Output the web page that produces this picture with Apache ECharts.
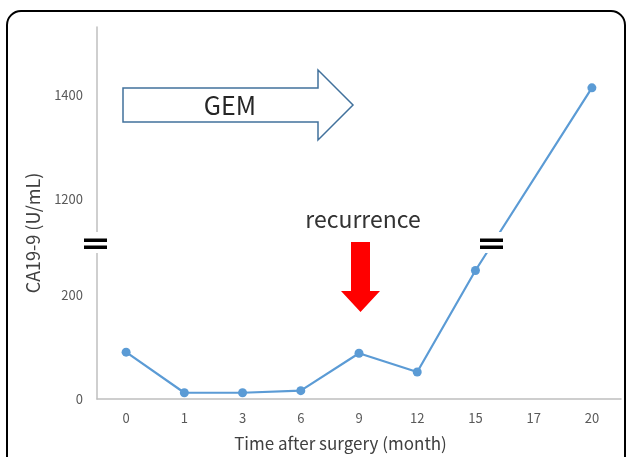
<!DOCTYPE html>
<html lang="ja">
<head>
    <meta charset="utf-8">
    <title>CA19-9</title>
    <script src="https://cdn.jsdelivr.net/npm/echarts@6/dist/echarts.min.js"></script>
    <style>
        html, body { margin: 0; padding: 0; background: #fff; }
        #main { width: 627px; height: 457px; }
    </style>
</head>
<body>
<div id="main"></div>
<script>
    // data
    var months = ['0', '1', '3', '6', '9', '12', '15', '17', '20'];
    var ca199 = [90, 12, 12, 16, 88, 52, 247, '-', 1413];
    var yTicks = [0, 200, 1200, 1400];

    // broken y axis: values above the break are shifted down
    var BREAK_AT = 600, SHIFT = 815;
    function toAxis(v) {
        if (v === '-') return '-';
        return v > BREAK_AT ? v - SHIFT : v;
    }
    function fromAxis(d) {
        return d > 300 ? d + SHIFT : d;
    }

    var font = '"Noto Sans CJK JP", "Noto Sans", sans-serif';
    var blue = '#5b9bd5';

    var myChart = echarts.init(document.getElementById('main'));
    myChart.setOption({
        animation: false,
        textStyle: { fontFamily: font },
        grid: { left: 97, right: 6, top: 27, bottom: 58 },
        xAxis: {
            type: 'category',
            data: months,
            boundaryGap: true,
            axisLine: { lineStyle: { color: '#bfbfbf', width: 1.5 } },
            axisTick: { show: false },
            axisLabel: { color: '#595959', fontSize: 13, margin: 13, fontFamily: font },
            name: 'Time after surgery (month)',
            nameLocation: 'middle',
            nameGap: 36,
            nameTextStyle: { color: '#404040', fontSize: 17, fontFamily: font, padding: [0, 37, 0, 0] }
        },
        yAxis: {
            type: 'value',
            min: 0,
            max: 715,
            splitLine: { show: false },
            axisLine: { show: true, lineStyle: { color: '#bfbfbf', width: 1.5 } },
            axisTick: { show: false, customValues: yTicks.map(toAxis) },
            axisLabel: {
                customValues: yTicks.map(toAxis),
                formatter: function (d) { return String(Math.round(fromAxis(d))); },
                color: '#595959', fontSize: 13, margin: 14, fontFamily: font
            },
            name: 'CA19-9 (U/mL)',
            nameLocation: 'middle',
            nameGap: 55,
            nameTextStyle: { color: '#404040', fontSize: 18, fontFamily: font, padding: [0, 40, 0, 0] }
        },
        series: [{
            type: 'line',
            data: ca199.map(toAxis),
            connectNulls: true,
            symbol: 'circle',
            symbolSize: 9,
            lineStyle: { color: blue, width: 2.2 },
            itemStyle: { color: blue }
        }],
        graphic: [
            // outer rounded frame
            { type: 'rect', z: 100, shape: { x: 7, y: 11, width: 618, height: 520, r: 14 },
              style: { fill: 'none', stroke: '#000', lineWidth: 2 } },
            // GEM arrow
            { type: 'polygon', z: 100,
              shape: { points: [[123, 88], [318, 88], [318, 70], [353, 105], [318, 140], [318, 122], [123, 122]] },
              style: { fill: '#fff', stroke: '#41719c', lineWidth: 1.5 } },
            { type: 'text', z: 101, x: 230, y: 105,
              style: { text: 'GEM', font: '25px ' + font, fill: '#262626', align: 'center', verticalAlign: 'middle' } },
            // recurrence
            { type: 'text', z: 101, x: 363, y: 219,
              style: { text: 'recurrence', font: '23px ' + font, fill: '#333', align: 'center', verticalAlign: 'middle' } },
            { type: 'polygon', z: 100,
              shape: { points: [[351, 242], [370, 242], [370, 291], [380, 291], [360.5, 312], [341, 291], [351, 291]] },
              style: { fill: '#ff0000', stroke: 'none' } },
            // break marks on the axis
            { type: 'rect', z: 100, shape: { x: 84, y: 232, width: 26, height: 21 }, style: { fill: '#fff' } },
            { type: 'rect', z: 101, shape: { x: 84, y: 238.5, width: 23, height: 3.5 }, style: { fill: '#000' } },
            { type: 'rect', z: 101, shape: { x: 84, y: 245.5, width: 23, height: 3.5 }, style: { fill: '#000' } },
            // break marks on the line
            { type: 'rect', z: 100, shape: { x: 481, y: 232, width: 22, height: 21 }, style: { fill: '#fff' } },
            { type: 'rect', z: 101, shape: { x: 480, y: 238.5, width: 23, height: 3.5 }, style: { fill: '#000' } },
            { type: 'rect', z: 101, shape: { x: 480, y: 245.5, width: 23, height: 3.5 }, style: { fill: '#000' } }
        ]
    });
</script>
</body>
</html>
